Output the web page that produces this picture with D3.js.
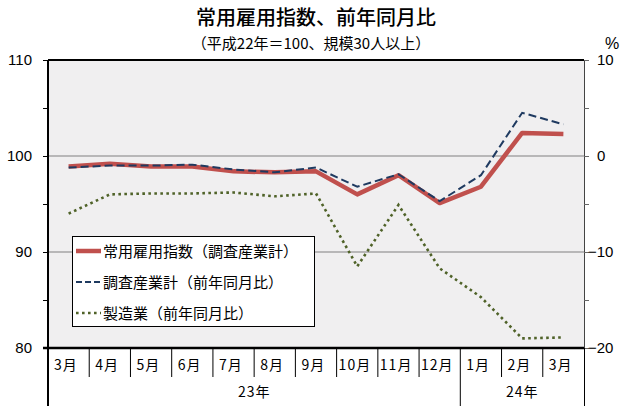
<!DOCTYPE html>
<html><head><meta charset="utf-8">
<script src="https://cdn.jsdelivr.net/npm/d3@7/dist/d3.min.js"></script>
<style>
body{margin:0;background:#fff;}
text{font-family:"Noto Sans CJK JP","Noto Sans",sans-serif;fill:#000;}
.num{font-family:"Liberation Sans",Arial,sans-serif;}
</style></head>
<body><svg id="c" width="630" height="410"></svg>
<script>
const months = ["3月","4月","5月","6月","7月","8月","9月","10月","11月","12月","1月","2月","3月"];
const years = [{label:"23年", from:0, to:9}, {label:"24年", from:10, to:12}];
const indexValues = [98.9, 99.2, 98.9, 98.9, 98.4, 98.3, 98.4, 96.0, 98.0, 95.1, 96.8, 102.4, 102.3];
const totalYoY = [-1.2, -1.0, -1.0, -0.9, -1.4, -1.7, -1.2, -3.2, -1.9, -4.7, -2.0, 4.5, 3.3];
const mfgYoY = [-6.0, -4.0, -3.9, -3.9, -3.8, -4.2, -3.9, -11.5, -5.1, -11.7, -14.7, -19.0, -18.9];
const leftTicks = [80, 85, 90, 95, 100, 105, 110];
const rightTicks = [-20, -15, -10, -5, 0, 5, 10];
const legendLabels = ["常用雇用指数（調査産業計）", "調査産業計（前年同月比）", "製造業（前年同月比）"];

const L = 48, R = 584, T = 60, B = 348;
const svg = d3.select("#c");

const x = d3.scaleBand().domain(d3.range(months.length)).range([L, R]).padding(0);
const cx = i => x(i) + x.bandwidth() / 2;
const yL = d3.scaleLinear().domain([80, 110]).range([B, T]);
const yR = d3.scaleLinear().domain([-20, 10]).range([B, T]);

// title
svg.append("text").attr("x", 316).attr("y", 25).attr("text-anchor", "middle")
  .attr("font-size", 20).attr("font-weight", 500).text("常用雇用指数、前年同月比");
svg.append("text").attr("x", 311).attr("y", 49).attr("text-anchor", "middle")
  .attr("font-size", 15).text("（平成22年＝100、規模30人以上）");
svg.append("text").attr("x", 612).attr("y", 49).attr("text-anchor", "middle")
  .attr("font-size", 16).attr("class", "num").text("%");

// plot background
svg.append("rect").attr("x", L).attr("y", T).attr("width", R - L).attr("height", B - T).attr("fill", "#f0eff0");

// gridlines
svg.append("g").selectAll("line").data([90, 100]).join("line")
  .attr("x1", L).attr("x2", R).attr("y1", d => yL(d)).attr("y2", d => yL(d))
  .attr("stroke", "#808080").attr("stroke-width", 1.2);

// left axis
const gl = svg.append("g").attr("transform", `translate(${L},0)`)
  .call(d3.axisLeft(yL).tickValues(leftTicks).tickSize(5).tickPadding(10)
    .tickFormat(d => d % 10 === 0 ? d : ""));
gl.select(".domain").remove();
gl.selectAll(".tick line").attr("stroke", "#000");
gl.selectAll(".tick text").attr("class", "num").attr("font-size", 15).attr("fill", "#000").attr("dx", -1);

// right axis
const gr = svg.append("g").attr("transform", `translate(${R},0)`)
  .call(d3.axisRight(yR).tickValues(rightTicks).tickSize(5).tickPadding(8)
    .tickFormat(d => d % 10 === 0 ? d3.format("")(d) : ""));
gr.select(".domain").attr("stroke", "#444").attr("d", `M0.5,${T}V${B}`);
gr.selectAll(".tick line").attr("stroke", "#666");
gr.selectAll(".tick text").attr("class", "num").attr("font-size", 15).attr("fill", "#000")
  .attr("x", d => d < 0 ? 4 : 13);

// frame
svg.append("line").attr("x1", L).attr("x2", R).attr("y1", T).attr("y2", T).attr("stroke", "#000").attr("stroke-width", 2);
svg.append("line").attr("x1", L).attr("x2", L).attr("y1", T).attr("y2", 406).attr("stroke", "#000").attr("stroke-width", 2);
svg.append("line").attr("x1", L - 5).attr("x2", R).attr("y1", B).attr("y2", B).attr("stroke", "#000").attr("stroke-width", 2.5);

// category axis
const cat = svg.append("g");
cat.selectAll("line.m").data(d3.range(1, months.length)).join("line").attr("class", "m")
  .attr("x1", i => x(i)).attr("x2", i => x(i)).attr("y1", B).attr("y2", i => (i === years[1].from ? 406 : 377))
  .attr("stroke", "#000").attr("stroke-width", 1);
cat.append("line").attr("x1", R + 0.5).attr("x2", R + 0.5).attr("y1", B).attr("y2", 406).attr("stroke", "#000");
cat.selectAll("text.m").data(months).join("text").attr("class", "m")
  .attr("x", (d, i) => x(i) + (d.length > 2 ? 2 : 6)).attr("y", 370)
  .attr("font-size", 14).attr("letter-spacing", 1).text(d => d);
cat.selectAll("text.y").data(years).join("text").attr("class", "y")
  .attr("x", d => (x(d.from) + x(d.to) + x.bandwidth()) / 2).attr("y", 397)
  .attr("text-anchor", "middle").attr("font-size", 14).attr("letter-spacing", 1).text(d => d.label);

// lines
const lineL = d3.line().x((d, i) => cx(i)).y(d => yL(d));
const lineR = d3.line().x((d, i) => cx(i)).y(d => yR(d));
svg.append("path").datum(mfgYoY).attr("d", lineR).attr("fill", "none")
  .attr("stroke", "#4f6228").attr("stroke-width", 2.6).attr("stroke-dasharray", "2.6,3.4");
svg.append("path").datum(indexValues).attr("d", lineL).attr("fill", "none")
  .attr("stroke", "#c0504d").attr("stroke-width", 4.5).attr("stroke-linejoin", "round");
svg.append("path").datum(totalYoY).attr("d", lineR).attr("fill", "none")
  .attr("stroke", "#1f3a60").attr("stroke-width", 2).attr("stroke-dasharray", "8,4");

// legend
const lg = svg.append("g");
lg.append("rect").attr("x", 72.5).attr("y", 236.5).attr("width", 242).attr("height", 90)
  .attr("fill", "#fff").attr("stroke", "#000").attr("stroke-width", 1);
const styles = [
  {stroke: "#c0504d", w: 4.5, dash: null},
  {stroke: "#1f3a60", w: 2, dash: "6,3"},
  {stroke: "#4f6228", w: 2.6, dash: "2.6,3.4"}
];
legendLabels.forEach((t, k) => {
  const yy = 251 + k * 31;
  lg.append("line").attr("x1", 76).attr("x2", 101).attr("y1", yy).attr("y2", yy)
    .attr("stroke", styles[k].stroke).attr("stroke-width", styles[k].w)
    .attr("stroke-dasharray", styles[k].dash);
  lg.append("text").attr("x", 103).attr("y", yy + 5.5).attr("font-size", 15).text(t);
});
</script></body></html>
